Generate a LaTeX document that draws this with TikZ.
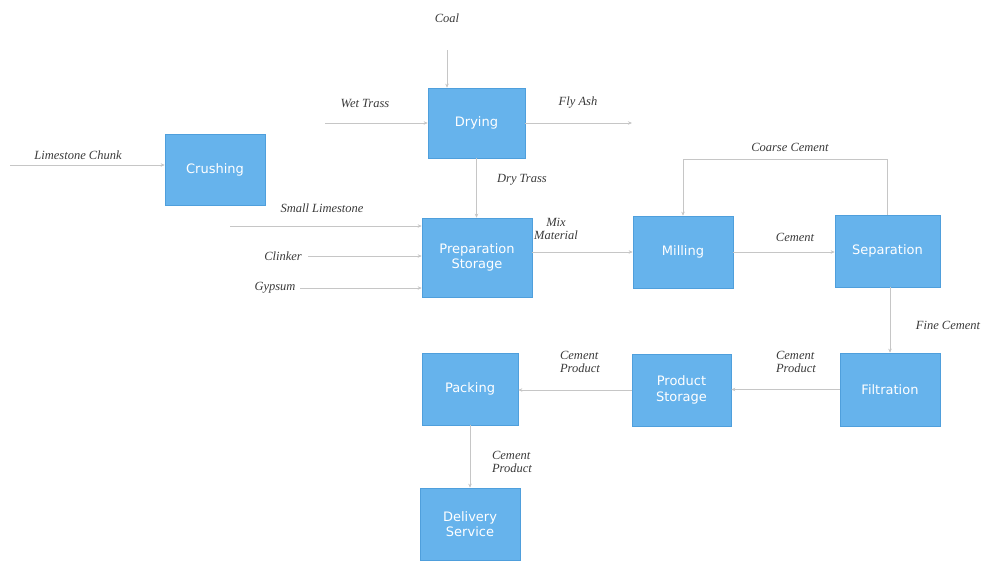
\documentclass[tikz,border=0pt]{standalone}
\usepackage{fontspec}
\setmainfont{Liberation Serif}
\setsansfont{DejaVu Sans}
\usetikzlibrary{arrows.meta}
\definecolor{boxblue}{HTML}{66B3EC}
\definecolor{boxedge}{HTML}{4F9FDC}
\definecolor{linegray}{HTML}{C6C6C6}
\definecolor{labgray}{HTML}{3A3A3A}
\tikzset{
  box/.style={rectangle, fill=boxblue, draw=boxedge, line width=0.6pt, text=white,
    font=\sffamily\fontsize{13}{15.5}\selectfont, align=center, inner sep=2pt},
  lab/.style={font=\itshape\fontsize{12.5}{13.5}\selectfont, text=labgray, align=left, inner sep=0pt},
  conn/.style={draw=linegray, line width=0.8pt, -{Stealth[length=4pt,width=3.5pt]}}
}
\begin{document}
\begin{tikzpicture}[x=1pt,y=-1pt]
\useasboundingbox (0,0) rectangle (983,560);
% boxes
\node[box, minimum width=100pt, minimum height=71pt] (crush) at (215,170) {Crushing};
\node[box, minimum width=97pt, minimum height=70pt] (dry) at (476.5,123) {Drying};
\node[box, minimum width=110pt, minimum height=79pt] (prep) at (477,257.5) {Preparation\\Storage};
\node[box, minimum width=100pt, minimum height=72pt] (mill) at (683,252) {Milling};
\node[box, minimum width=105pt, minimum height=72pt] (sep) at (887.5,251) {Separation};
\node[box, minimum width=100pt, minimum height=73pt] (filt) at (890,389.5) {Filtration};
\node[box, minimum width=99pt, minimum height=72pt] (pstore) at (681.5,390) {Product\\Storage};
\node[box, minimum width=96pt, minimum height=72pt] (pack) at (470,389) {Packing};
\node[box, minimum width=100pt, minimum height=72pt] (deliv) at (470,524) {Delivery\\Service};
% free ends
\coordinate (coalin) at (447,50);
\coordinate (lcin) at (10,165);
\coordinate (wtin) at (325,123);
\coordinate (flyout) at (632,123);
\coordinate (slin) at (230,226);
\coordinate (clin) at (308,256);
\coordinate (gyin) at (300,288);
% connectors
\draw[conn] (coalin) -- (coalin |- dry.north);
\draw[conn] (lcin) -- (lcin -| crush.west);
\draw[conn] (wtin) -- (wtin -| dry.west);
\draw[conn] (dry.east) -- (flyout);
\draw[conn] (dry.south) -- (dry.south |- prep.north);
\draw[conn] (slin) -- (slin -| prep.west);
\draw[conn] (clin) -- (clin -| prep.west);
\draw[conn] (gyin) -- (gyin -| prep.west);
\draw[conn] (mill.west -| prep.east) -- (mill.west);
\draw[conn] (mill.east) -- (mill.east -| sep.west);
\draw[conn] (sep.north) -- ++(0,-55) -| (mill.north);
\draw[conn] (sep.south -| filt.north) -- (filt.north);
\draw[conn] (filt.west) -- (filt.west -| pstore.east);
\draw[conn] (pstore.west) -- (pstore.west -| pack.east);
\draw[conn] (pack.south) -- (deliv.north);
% labels
\node[lab] (lcoal) at (447,18) {Coal};
\node[lab] (llc) at (78,155) {Limestone Chunk};
\node[lab] (lwt) at (365,103) {Wet Trass};
\node[lab] (lfly) at (578,103) {Fly Ash};
\node[lab] (ldry) at (522,180) {Dry Trass};
\node[lab] (lsl) at (322,208) {Small Limestone};
\node[lab] (lcl) at (283,256) {Clinker};
\node[lab] (lgy) at (275,288) {Gypsum};
\node[lab, align=center] (lmix) at (556,229) {Mix\\Material};
\node[lab] (lcem) at (795,237) {Cement};
\node[lab] (lcoarse) at (790,147) {Coarse Cement};
\node[lab] (lfine) at (948,325) {Fine Cement};
\node[lab] (lcp1) at (796,362) {Cement\\Product};
\node[lab] (lcp2) at (580,362) {Cement\\Product};
\node[lab] (lcp3) at (512,462) {Cement\\Product};
\end{tikzpicture}
\end{document}
